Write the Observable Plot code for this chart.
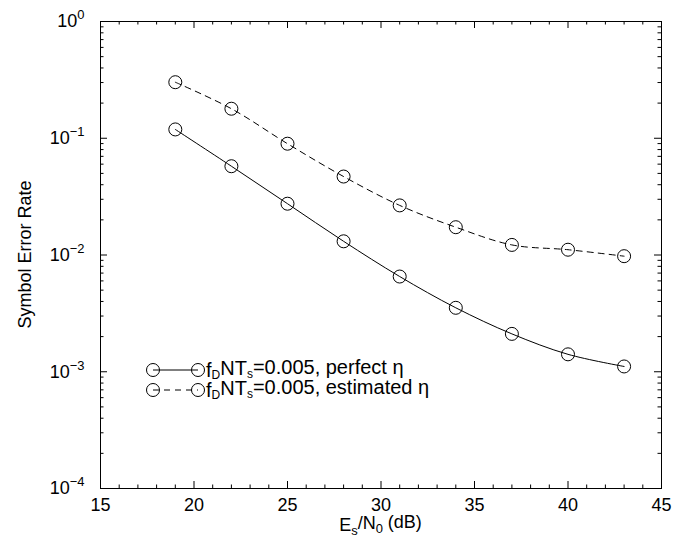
<!DOCTYPE html>
<html><head><meta charset="utf-8">
<script src="https://cdn.jsdelivr.net/npm/d3@7"></script>
<script src="https://cdn.jsdelivr.net/npm/@observablehq/plot@0.6"></script>
<style>
body{margin:0;background:#fff;}
#chart{position:relative;width:684px;height:544px;}
</style></head><body><div id="chart"></div>
<script>
// ---- data ----
const snr = [19, 22, 25, 28, 31, 34, 37, 40, 43];
const serPerfect = [0.119, 0.0576, 0.0275, 0.0131, 0.00654, 0.00353, 0.00211, 0.00141, 0.00111];
const serEstimated = [0.302, 0.179, 0.0898, 0.047, 0.0266, 0.0173, 0.0122, 0.0111, 0.00977];
const seriesKeys = ["perfect", "estimated"];
const seriesLabels = ["=0.005, perfect η", "=0.005, estimated η"];
const xTicks = [15, 20, 25, 30, 35, 40, 45];
const yExponents = [-4, -3, -2, -1, 0];

// ---- derived tables ----
const yTicks = yExponents.map(e => Math.pow(10, e));
const rowsPerfect = snr.map((x, i) => ({x, y: serPerfect[i], s: seriesKeys[0]}));
const rowsEstimated = snr.map((x, i) => ({x, y: serEstimated[i], s: seriesKeys[1]}));
const xMinor = d3.range(15, 46).filter(v => v % 5 !== 0);
const yMinor = [];
for (let k = -4; k < 0; k++) for (let m = 2; m <= 9; m++) yMinor.push(m * Math.pow(10, k));

const W = 684, H = 544, mL = 100, mR = 23, mT = 21, mB = 56;
const iW = W - mL - mR, iH = H - mT - mB;
const maj = 7, mn = 3.5;
const font = "'Liberation Sans', Arial, Helvetica, sans-serif";

const plot = Plot.plot({
  width: W, height: H,
  marginLeft: mL, marginRight: mR, marginTop: mT, marginBottom: mB,
  style: {fontFamily: font, fontSize: "18px", color: "#000", background: "#fff", overflow: "visible"},
  x: {domain: [15, 45]},
  y: {type: "log", domain: [1e-4, 1]},
  marks: [
    Plot.tickX(xTicks, {x: d => d, insetTop: iH - maj, stroke: "#000"}),
    Plot.tickX(xTicks, {x: d => d, insetBottom: iH - maj, stroke: "#000"}),
    Plot.tickX(xMinor, {x: d => d, insetTop: iH - mn, stroke: "#000"}),
    Plot.tickX(xMinor, {x: d => d, insetBottom: iH - mn, stroke: "#000"}),
    Plot.tickY(yTicks, {y: d => d, insetRight: iW - maj, stroke: "#000"}),
    Plot.tickY(yTicks, {y: d => d, insetLeft: iW - maj, stroke: "#000"}),
    Plot.tickY(yMinor, {y: d => d, insetRight: iW - mn, stroke: "#000"}),
    Plot.tickY(yMinor, {y: d => d, insetLeft: iW - mn, stroke: "#000"}),
    Plot.frame({stroke: "#000", strokeWidth: 1}),
    Plot.axisX(xTicks, {tickSize: 0, tickPadding: 10, label: null, fontSize: 18}),
    Plot.axisY(yTicks, {tickSize: 0, tickPadding: 16, label: null, fontSize: 18,
      tickFormat: d => "10^" + Math.round(Math.log10(d))}),
    Plot.line(rowsPerfect, {x: "x", y: "y", curve: "catmull-rom", stroke: "#000", strokeWidth: 1}),
    Plot.line(rowsEstimated, {x: "x", y: "y", curve: "catmull-rom", stroke: "#000", strokeWidth: 1, strokeDasharray: "6,5"}),
    Plot.dot(rowsPerfect, {x: "x", y: "y", r: 6.5, stroke: "#000", fill: "none", strokeWidth: 1}),
    Plot.dot(rowsEstimated, {x: "x", y: "y", r: 6.5, stroke: "#000", fill: "none", strokeWidth: 1})
  ]
});
document.getElementById("chart").appendChild(plot);

const svg = d3.select(plot);
// superscript exponents on y tick labels
svg.selectAll('g[aria-label="y-axis tick label"] text').each(function() {
  const t = d3.select(this);
  const s = t.text();
  const [base, exp] = s.split("^");
  t.text(null);
  t.append("tspan").text(base);
  t.append("tspan").attr("dy", "-0.6em").attr("font-size", "0.72em").text(exp.replace("-", "−"));
});

// axis titles
const xl = svg.append("text")
  .attr("x", mL + iW / 2).attr("y", H - 13)
  .attr("text-anchor", "middle").attr("font-size", 18).attr("font-family", font).attr("fill", "#000");
xl.append("tspan").text("E");
xl.append("tspan").attr("dy", "0.3em").attr("font-size", "0.72em").text("s");
xl.append("tspan").attr("dy", "-0.3em").text("/N");
xl.append("tspan").attr("dy", "0.3em").attr("font-size", "0.72em").text("0");
xl.append("tspan").attr("dy", "-0.3em").text(" (dB)");

svg.append("text")
  .attr("transform", `translate(31,${mT + iH / 2}) rotate(-90)`)
  .attr("text-anchor", "middle").attr("font-size", 18).attr("font-family", font).attr("fill", "#000")
  .text("Symbol Error Rate");

// legend
const lg = svg.append("g").attr("font-family", font).attr("font-size", 20).attr("fill", "#000")
  .attr("text-anchor", "start");
const lx0 = 153, lx1 = 198, ly0 = 370, dyRow = 20;
seriesLabels.forEach((lab, i) => {
  const y = ly0 + i * dyRow;
  lg.append("line").attr("x1", lx0).attr("x2", lx1).attr("y1", y).attr("y2", y)
    .attr("stroke", "#000").attr("stroke-width", 1)
    .attr("stroke-dasharray", i === 1 ? "6,5" : null);
  [lx0, lx1].forEach(cx => lg.append("circle").attr("cx", cx).attr("cy", y).attr("r", 6.5)
    .attr("fill", "none").attr("stroke", "#000"));
  const t = lg.append("text").attr("x", lx1 + 8).attr("y", y).attr("dy", "0.35em").attr("text-anchor", "start");
  t.append("tspan").text("f");
  t.append("tspan").attr("dy", "0.2em").attr("font-size", "0.6em").text("D");
  t.append("tspan").attr("dy", "-0.2em").text("NT");
  t.append("tspan").attr("dy", "0.2em").attr("font-size", "0.6em").text("s");
  t.append("tspan").attr("dy", "-0.2em").text(lab);
});
</script></body></html>
